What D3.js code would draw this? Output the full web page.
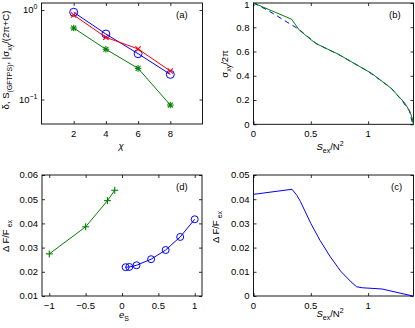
<!DOCTYPE html>
<html><head><meta charset="utf-8">
<script src="https://cdn.jsdelivr.net/npm/d3@7"></script>
<style>
body{margin:0;background:#fff;}
svg text{font-family:"Liberation Sans",Arial,sans-serif;font-size:9.5px;fill:#000;}
</style></head>
<body><svg id="c" width="415" height="328"></svg>
<script>
// ---- data ----
// panel (a)
const aChi = [2, 4, 6, 8];
const aBlue = [0.943, 0.539, 0.325, 0.191];
const aRed = [0.879, 0.495, 0.367, 0.208];
const aGreen = [0.629, 0.364, 0.223, 0.0868];
const aXTicks = [2, 4, 6, 8];
const aYTicks = [1, 0.1];
// panel (b)
const bGreenX = [0, 0.333, 0.40, 0.54, 0.74, 1.03, 1.2, 1.32, 1.365, 1.385, 1.395];
const bGreenY = [1, 0.866, 0.776, 0.668, 0.578, 0.42, 0.298, 0.175, 0.105, 0.05, 0];
const bBlueX = [0, 0.1, 0.2, 0.3, 0.39, 0.55, 0.75, 1.0, 1.2, 1.3, 1.36, 1.39];
const bBlueY = [1, 0.952, 0.897, 0.838, 0.787, 0.664, 0.571, 0.436, 0.300, 0.190, 0.11, 0];
const bXTicks = [0, 0.5, 1];
const bYTicks = [0, 0.2, 0.4, 0.6, 0.8, 1];
const bYLabels = ["0", "0.2", "0.4", "0.6", "0.8", "1"];
// panel (c)
const cX = [0, 0.336, 0.38, 0.41, 0.5, 0.58, 0.67, 0.76, 0.85, 0.9, 0.95, 1.12, 1.39];
const cY = [0.042, 0.0441, 0.0415, 0.039, 0.030, 0.023, 0.0162, 0.0103, 0.0059, 0.0038, 0.0034, 0.0029, 0];
const cXTicks = [0, 0.5, 1];
const cYTicks = [0, 0.01, 0.02, 0.03, 0.04, 0.05];
const cYLabels = ["0", "0.01", "0.02", "0.03", "0.04", "0.05"];
// panel (d)
const dGreenX = [-1, -0.5, -0.2, -0.1];
const dGreenY = [0.0274, 0.0386, 0.0494, 0.0537];
const dBlueX = [0.05, 0.1, 0.2, 0.4, 0.6, 0.8, 1.0];
const dBlueY = [0.0219, 0.0220, 0.0227, 0.0252, 0.0290, 0.0344, 0.0417];
const dXTicks = [-1, -0.5, 0, 0.5, 1];
const dYTicks = [0.01, 0.02, 0.03, 0.04, 0.05, 0.06];
const dYLabels = ["0.01", "0.02", "0.03", "0.04", "0.05", "0.06"];

const BLUE = "#0000ff", RED = "#ff0000", GREEN = "#008000";
const svg = d3.select("#c");

function rich(t, parts) {
  let shift = 0;
  parts.forEach(([s, k]) => {
    const ts = t.append("tspan").text(s);
    let target = k === "sub" ? 3 : k === "sup" ? -4 : 0;
    if (target !== shift) ts.attr("dy", target - shift);
    shift = target;
    if (k !== "n") ts.style("font-size", "7px");
  });
}

// frame: inward ticks on all four sides via d3 axes; tick labels drawn as plain texts from the scales
function frame(box, x, y, xt, yt, xl, yl) {
  const g = svg.append("g");
  g.append("g").attr("transform", `translate(0,${box.b})`)
    .call(d3.axisBottom(x).tickValues(xt).tickSizeInner(-3).tickSizeOuter(0).tickFormat(""));
  g.append("g").attr("transform", `translate(${box.l},0)`)
    .call(d3.axisLeft(y).tickValues(yt).tickSizeInner(-3).tickSizeOuter(0).tickFormat(""));
  g.append("g").attr("transform", `translate(0,${box.t})`)
    .call(d3.axisTop(x).tickValues(xt).tickSizeInner(-3).tickSizeOuter(0).tickFormat(""));
  g.append("g").attr("transform", `translate(${box.r},0)`)
    .call(d3.axisRight(y).tickValues(yt).tickSizeInner(-3).tickSizeOuter(0).tickFormat(""));
  g.selectAll(".domain").remove();
  g.selectAll(".tick line").attr("stroke", "#000").attr("stroke-width", 0.8);
  g.selectAll(".tick text").remove();
  g.append("rect").attr("x", box.l).attr("y", box.t).attr("width", box.r - box.l).attr("height", box.b - box.t)
    .attr("fill", "none").attr("stroke", "#000").attr("stroke-width", 0.9);
  const lab = svg.append("g");
  lab.selectAll("text.xt").data(xt).join("text").attr("class", "xt")
    .attr("x", d => x(d)).attr("y", box.b + 12.5).attr("text-anchor", "middle")
    .text((d, i) => xl ? xl[i] : d3.format("~g")(d));
  const yts = lab.selectAll("text.yt").data(yt).join("text").attr("class", "yt")
    .attr("x", box.l - 4).attr("y", d => y(d) + 3.3).attr("text-anchor", "end");
  return yts;
}

function line(xs, ys, x, y, color, dash) {
  const l = d3.line().x(d => x(d[0])).y(d => y(d[1]));
  const p = svg.append("path").datum(xs.map((v, i) => [v, ys[i]])).attr("d", l)
    .attr("fill", "none").attr("stroke", color).attr("stroke-width", 1);
  if (dash) p.attr("stroke-dasharray", dash);
}
function circles(xs, ys, x, y, color, r) {
  svg.append("g").selectAll("circle").data(xs.map((v, i) => [v, ys[i]])).join("circle")
    .attr("cx", d => x(d[0])).attr("cy", d => y(d[1])).attr("r", r)
    .attr("fill", "none").attr("stroke", color).attr("stroke-width", 1);
}
function marks(xs, ys, x, y, color, kind, s) {
  const g = svg.append("g");
  xs.forEach((v, i) => {
    const cx = x(v), cy = y(ys[i]);
    const segs = [];
    if (kind === "plus" || kind === "star") { segs.push([-s, 0, s, 0], [0, -s, 0, s]); }
    if (kind === "x" || kind === "star") { const k = s * 0.75; segs.push([-k, -k, k, k], [-k, k, k, -k]); }
    segs.forEach(q => g.append("line").attr("x1", cx + q[0]).attr("y1", cy + q[1]).attr("x2", cx + q[2]).attr("y2", cy + q[3])
      .attr("stroke", color).attr("stroke-width", 1.1));
  });
}

// ---- panel (a) ----
{
  const box = { l: 41.5, r: 202.5, t: 3, b: 124 };
  const x = d3.scaleLinear().domain([0, 10]).range([box.l, box.r]);
  const y = d3.scaleLog().domain([0.0533, 1.197]).range([box.b, box.t]);
  const yts = frame(box, x, y, aXTicks, aYTicks);
  yts.each(function(d) { rich(d3.select(this), [["10", "n"], [d === 1 ? "0" : "−1", "sup"]]); });
  line(aChi, aBlue, x, y, BLUE); circles(aChi, aBlue, x, y, BLUE, 4);
  line(aChi, aRed, x, y, RED); marks(aChi, aRed, x, y, RED, "x", 3.5);
  line(aChi, aGreen, x, y, GREEN); marks(aChi, aGreen, x, y, GREEN, "star", 3.3);
  svg.append("text").attr("x", 176).attr("y", 18).text("(a)");
  svg.append("text").attr("x", 121).attr("y", 149).attr("text-anchor", "middle").style("font-style", "italic").text("χ");
  const t = svg.append("text").attr("transform", "translate(9,60) rotate(-90)").attr("text-anchor", "middle");
  rich(t, [["δ, S", "n"], ["(GFTPS)", "sub"], [", |σ", "n"], ["xy", "sub"], ["/(2π+C)", "n"]]);
}

// ---- panel (b) ----
{
  const box = { l: 253.5, r: 413.5, t: 3, b: 124.3 };
  const x = d3.scaleLinear().domain([0, 1.396]).range([box.l, box.r]);
  const y = d3.scaleLinear().domain([0, 1]).range([box.b, box.t]);
  const yts = frame(box, x, y, bXTicks, bYTicks);
  yts.text((d, i) => bYLabels[i]).attr("y", d => Math.max(y(d) + 3.3, 7.5));
  line(bBlueX, bBlueY, x, y, BLUE, "5,4");
  line(bGreenX, bGreenY, x, y, GREEN);
  svg.append("text").attr("x", 389).attr("y", 18).text("(b)");
  const t = svg.append("text").attr("x", 330).attr("y", 150).attr("text-anchor", "middle");
  rich(t, [["S", "n"], ["ex", "sub"], ["/N", "n"], ["2", "sup"]]);
  t.select("tspan").style("font-style", "italic");
  const t2 = svg.append("text").attr("transform", "translate(228,64) rotate(-90)").attr("text-anchor", "middle");
  rich(t2, [["σ", "n"], ["xy", "sub"], ["/2π", "n"]]);
}

// ---- panel (c) ----
{
  const box = { l: 253.5, r: 413.5, t: 175, b: 296 };
  const x = d3.scaleLinear().domain([0, 1.396]).range([box.l, box.r]);
  const y = d3.scaleLinear().domain([0, 0.05]).range([box.b, box.t]);
  const yts = frame(box, x, y, cXTicks, cYTicks);
  yts.text((d, i) => cYLabels[i]);
  line(cX, cY, x, y, BLUE);
  svg.append("text").attr("x", 391).attr("y", 190).text("(c)");
  const t = svg.append("text").attr("x", 330).attr("y", 317).attr("text-anchor", "middle");
  rich(t, [["S", "n"], ["ex", "sub"], ["/N", "n"], ["2", "sup"]]);
  t.select("tspan").style("font-style", "italic");
  const t2 = svg.append("text").attr("transform", "translate(219,227) rotate(-90)").attr("text-anchor", "middle");
  rich(t2, [["Δ F/F", "n"], [" ex", "sub"]]);
}

// ---- panel (d) ----
{
  const box = { l: 42, r: 202, t: 175, b: 296 };
  const x = d3.scaleLinear().domain([-1.1, 1.1]).range([box.l, box.r]);
  const y = d3.scaleLinear().domain([0.01, 0.06]).range([box.b, box.t]);
  const yts = frame(box, x, y, dXTicks, dYTicks);
  yts.text((d, i) => dYLabels[i]);
  line(dGreenX, dGreenY, x, y, GREEN); marks(dGreenX, dGreenY, x, y, GREEN, "plus", 3.5);
  line(dBlueX, dBlueY, x, y, BLUE); circles(dBlueX, dBlueY, x, y, BLUE, 3.5);
  svg.append("text").attr("x", 176).attr("y", 190).text("(d)");
  const t = svg.append("text").attr("x", 124).attr("y", 318).attr("text-anchor", "middle");
  rich(t, [["e", "n"], ["S", "sub"]]);
  t.select("tspan").style("font-style", "italic");
  const t2 = svg.append("text").attr("transform", "translate(9,236) rotate(-90)").attr("text-anchor", "middle");
  rich(t2, [["Δ F/F", "n"], [" ex", "sub"]]);
}
</script></body></html>
